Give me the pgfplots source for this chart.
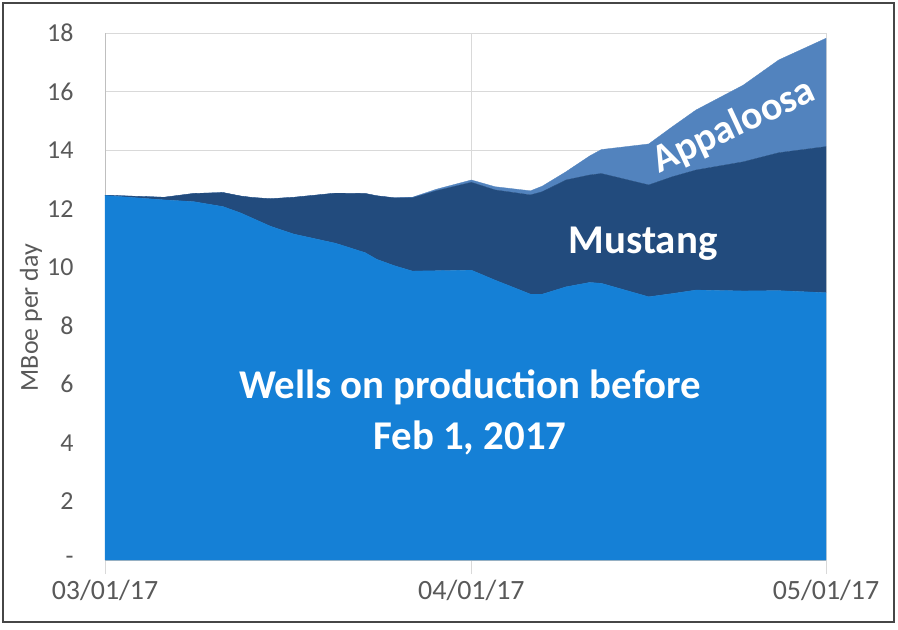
\documentclass[border=0pt]{standalone}
\usepackage{pgfplots}
\usepackage{pgfplotstable}
\pgfplotsset{compat=1.18}
\usepackage{fontspec}
\setmainfont{Carlito}
\definecolor{basec}{RGB}{21,128,214}
\definecolor{mustc}{RGB}{34,75,125}
\definecolor{appc}{RGB}{82,131,190}
\definecolor{gridc}{RGB}{217,217,217}
\definecolor{tickc}{RGB}{89,89,89}
\pgfplotstableread{
d base mustang appaloosa
0 12.45 0.01 0
5 12.30 0.09 0
7.5 12.24 0.28 0
10 12.07 0.48 0
11.5 11.85 0.58 0
12.5 11.67 0.71 0
14 11.40 0.94 0
16 11.13 1.26 0
19.5 10.82 1.71 0
22 10.50 2.02 0
23 10.27 2.17 0
24.5 10.05 2.32 0
26 9.87 2.50 0.02
28 9.88 2.73 0.05
31 9.90 3.00 0.08
33 9.56 3.08 0.11
36 9.08 3.39 0.14
37 9.08 3.50 0.19
39 9.33 3.65 0.28
41 9.48 3.67 0.65
42 9.45 3.75 0.82
46 8.99 3.82 1.40
48 9.10 3.99 1.71
50 9.22 4.10 2.05
54 9.19 4.41 2.62
57 9.20 4.71 3.17
61 9.13 4.99 3.70
}\prodtable
\begin{document}
\begin{tikzpicture}
\useasboundingbox (0bp,0bp) rectangle (898bp,-630bp);
\draw[line width=1.3bp, draw=gray!55!black] (3bp,-3bp) rectangle (894bp,-622bp);
\begin{axis}[
  at={(105bp,-560bp)}, anchor=south west,
  scale only axis, width=721bp, height=527bp,
  xmin=0, xmax=61, ymin=0, ymax=18,
  stack plots=y,
  axis lines=left, axis line style={-, draw=gray!50},
  xtick={0,31,61}, xticklabels={03/01/17,04/01/17,05/01/17},
  ytick={0,2,...,18}, yticklabels={-,2,4,6,8,10,12,14,16,18},
  grid=major, grid style={draw=gridc, line width=0.8bp},
  xtick align=outside, ytick align=inside, major tick length=14bp,
  xtick style={draw=gridc, line width=0.8bp}, ytick style={draw=none},
  ticklabel style={font=\fontsize{26}{30}\selectfont, text=tickc},
  xticklabel style={font=\fontsize{28}{32}\selectfont, yshift=-3bp},
  yticklabel style={xshift=-28bp},
  ylabel={MBoe per day},
  every axis y label/.style={at={(axis description cs:-0.1026,0.46)}, rotate=90, anchor=center, font=\fontsize{26}{30}\selectfont, text=tickc},
  clip=false,
]
\addplot[fill=basec, draw=basec, line width=0.3bp] table[x=d, y=base] {\prodtable} \closedcycle;
\addplot[fill=mustc, draw=mustc, line width=0.3bp] table[x=d, y=mustang] {\prodtable} \closedcycle;
\addplot[fill=appc, draw=appc, line width=0.3bp] table[x=d, y=appaloosa] {\prodtable} \closedcycle;
\coordinate (L1) at (axis cs:30.88,5.50);
\coordinate (L2) at (axis cs:30.88,3.79);
\coordinate (LM) at (axis cs:45.52,10.485);
\coordinate (LA) at (axis cs:53.2,14.8);
\end{axis}
\node[anchor=base, text=white, font=\bfseries\fontsize{41}{48}\selectfont] at (L1) {Wells on production before};
\node[anchor=base, text=white, font=\bfseries\fontsize{41}{48}\selectfont] at (L2) {Feb 1, 2017};
\node[anchor=base, text=white, font=\bfseries\fontsize{41}{48}\selectfont] at (LM) {Mustang};
\node[anchor=center, rotate=25, text=white, font=\bfseries\fontsize{40}{48}\selectfont] at (LA) {Appaloosa};
\end{tikzpicture}
\end{document}
